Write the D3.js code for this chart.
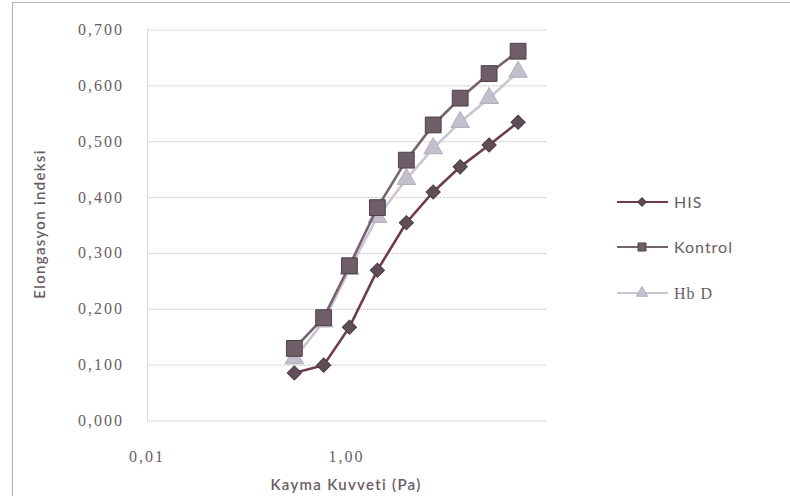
<!DOCTYPE html>
<html>
<head>
<meta charset="utf-8">
<script src="https://cdn.jsdelivr.net/npm/d3@7"></script>
<style>
  body { margin: 0; background: #fff; }
  text { fill: #6a5c64; }
</style>
</head>
<body>
<div id="container"></div>
<script>
// shear stress (Pa)
const shear = [0.30, 0.59, 1.07, 2.04, 3.98, 7.4, 13.8, 26.9, 52.5];
const his = [0.086, 0.100, 0.168, 0.270, 0.355, 0.410, 0.455, 0.494, 0.535];
const kontrol = [0.130, 0.185, 0.278, 0.382, 0.467, 0.530, 0.578, 0.622, 0.662];
const hbd = [0.112, 0.178, 0.272, 0.365, 0.433, 0.488, 0.535, 0.578, 0.625];
const yTicks = [0, 0.1, 0.2, 0.3, 0.4, 0.5, 0.6, 0.7];
const xTicks = [0.01, 1];
const seriesNames = ["HIS", "Kontrol", "Hb D"];

const width = 790, height = 503;

const svg = d3.select("#container").append("svg")
  .attr("width", width)
  .attr("height", height);

// outer chart border (top + left only visible)
svg.append("line").attr("x1", 12).attr("x2", width).attr("y1", 2.5).attr("y2", 2.5)
  .attr("stroke", "#b5b5b5").attr("stroke-width", 1.2);
svg.append("line").attr("x1", 12.5).attr("x2", 12.5).attr("y1", 2).attr("y2", 496)
  .attr("stroke", "#b5b5b5").attr("stroke-width", 1.2);

const x = d3.scaleLog().domain([0.01, 100]).range([147, 546]);
const y = d3.scaleLinear().domain([0, 0.7]).range([421, 30]);

// horizontal gridlines
svg.append("g").selectAll("line")
  .data(yTicks)
  .join("line")
  .attr("x1", 147).attr("x2", 546)
  .attr("y1", d => y(d)).attr("y2", d => y(d))
  .attr("stroke", "#cfcfcf")
  .attr("stroke-width", 1)
  .attr("stroke-dasharray", "3,1");

svg.append("line")
  .attr("x1", 147.5).attr("x2", 147.5).attr("y1", y(0.7)).attr("y2", y(0))
  .attr("stroke", "#dcdcdc");

// y tick labels
const fmtY = d3.format(".3f");
svg.append("g").selectAll("text")
  .data(yTicks)
  .join("text")
  .attr("x", 124)
  .attr("y", d => y(d) + 5)
  .attr("text-anchor", "end")
  .attr("font-family", "Liberation Serif")
  .attr("font-size", 16)
  .attr("letter-spacing", 2)
  .text(d => fmtY(d).replace(".", ","));

// x tick labels
const fmtX = d3.format(".2f");
svg.append("g").selectAll("text")
  .data(xTicks)
  .join("text")
  .attr("x", d => x(d))
  .attr("y", 462)
  .attr("text-anchor", "middle")
  .attr("font-family", "Liberation Serif")
  .attr("font-size", 16)
  .attr("letter-spacing", 2)
  .text(d => fmtX(d).replace(".", ","));

// axis titles
svg.append("text")
  .attr("transform", "translate(45,224) rotate(-90)")
  .attr("text-anchor", "middle")
  .attr("font-family", "Lato")
  .attr("font-size", 15)
  .attr("font-weight", 600)
  .attr("letter-spacing", 1.3)
  .text("Elongasyon indeksi");

svg.append("text")
  .attr("x", 346)
  .attr("y", 490)
  .attr("text-anchor", "middle")
  .attr("font-family", "Lato")
  .attr("font-size", 15)
  .attr("font-weight", 600)
  .attr("letter-spacing", 1.3)
  .text("Kayma Kuvveti  (Pa)");

const series = [
  { name: seriesNames[0], values: his, line: "#6d3e4a", fill: "#5f4e58", stroke: "#4a3a44", shape: "diamond", size: 100, lsize: 36 },
  { name: seriesNames[1], values: kontrol, line: "#76626d", fill: "#6f5d68", stroke: "#4f404a", shape: "square", size: 250, lsize: 64 },
  { name: seriesNames[2], values: hbd, line: "#c9c5d4", fill: "#c3bfcd", stroke: "#b2aebd", shape: "triangle", size: 150, lsize: 55 }
];

function symbolPath(shape, size) {
  if (shape === "triangle") return d3.symbol(d3.symbolTriangle, size)();
  return d3.symbol(d3.symbolSquare, size)();
}

const lineGen = d3.line()
  .x((d, i) => x(shear[i]))
  .y(d => y(d));

// draw HbD first, then HIS, then Kontrol on top
const order = [2, 0, 1];
order.forEach(k => {
  const s = series[k];
  const g = svg.append("g");
  g.append("path")
    .datum(s.values)
    .attr("fill", "none")
    .attr("stroke", s.line)
    .attr("stroke-width", 2.6)
    .attr("d", lineGen);
  g.selectAll("path.m")
    .data(s.values)
    .join("path")
    .attr("class", "m")
    .attr("d", symbolPath(s.shape, s.size))
    .attr("transform", (d, i) => `translate(${x(shear[i])},${y(d)})` + (s.shape === "diamond" ? " rotate(45)" : ""))
    .attr("fill", s.fill)
    .attr("stroke", s.stroke)
    .attr("stroke-width", 1);
});

// legend
const legend = svg.append("g");
const legY = [202, 247, 293];
series.forEach((s, i) => {
  const row = legend.append("g").attr("transform", `translate(0,${legY[i]})`);
  row.append("line")
    .attr("x1", 617).attr("x2", 668).attr("y1", 0).attr("y2", 0)
    .attr("stroke", s.line).attr("stroke-width", 2);
  row.append("path")
    .attr("d", symbolPath(s.shape, s.lsize))
    .attr("transform", "translate(642,0)" + (s.shape === "diamond" ? " rotate(45)" : ""))
    .attr("fill", s.fill)
    .attr("stroke", s.stroke);
  row.append("text")
    .attr("x", 674)
    .attr("y", 6)
    .attr("font-family", s.name === "Hb D" ? "Liberation Serif" : "Lato")
    .attr("font-size", 16)
    .attr("letter-spacing", 1)
    .text(s.name);
});
</script>
</body>
</html>
